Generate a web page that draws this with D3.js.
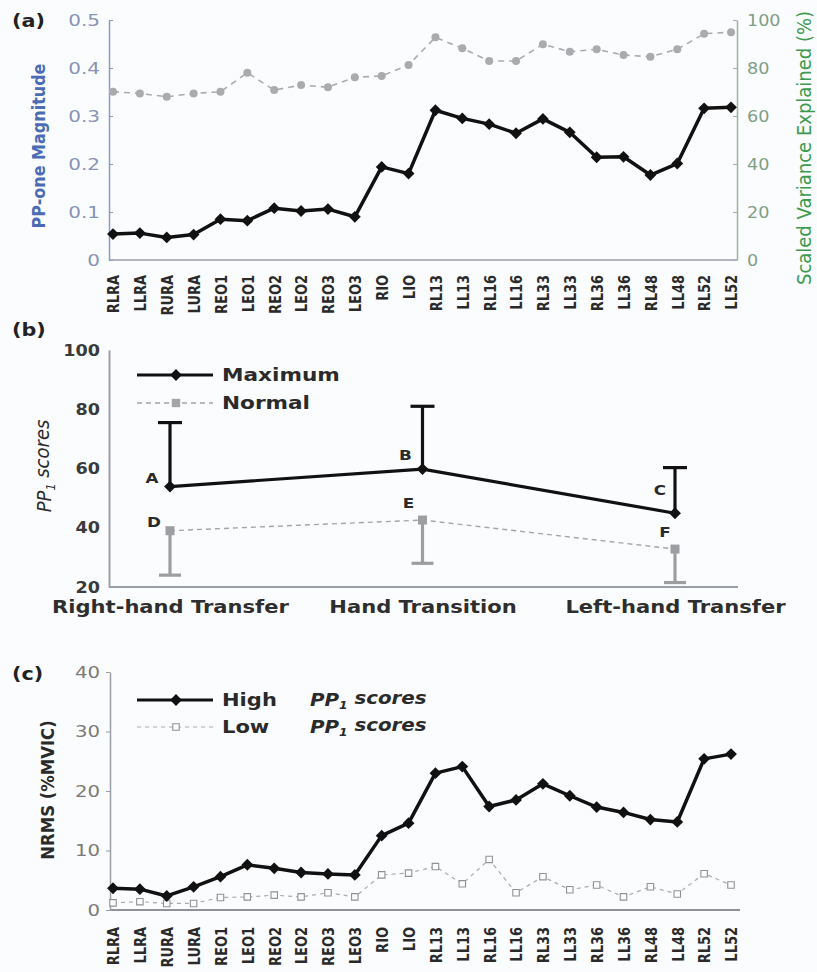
<!DOCTYPE html>
<html><head><meta charset="utf-8">
<script src="https://cdn.jsdelivr.net/npm/d3@7"></script>
<style>
body{margin:0;background:#fbfcfe;}
svg{display:block;font-family:"DejaVu Sans",sans-serif;}
</style>
</head><body>
<svg id="chart" width="817" height="972"></svg>
<script>
// ---------- data ----------
const muscles = ["RLRA","LLRA","RURA","LURA","REO1","LEO1","REO2","LEO2","REO3","LEO3","RIO","LIO","RL13","LL13","RL16","LL16","RL33","LL33","RL36","LL36","RL48","LL48","RL52","LL52"];
const ppMagnitude = [0.054,0.056,0.047,0.053,0.085,0.082,0.108,0.102,0.106,0.090,0.194,0.180,0.312,0.295,0.283,0.264,0.294,0.266,0.214,0.215,0.177,0.201,0.316,0.318];
const varianceExplained = [70.1,69.4,68.0,69.4,70.1,78.0,70.8,72.9,72.0,76.1,76.7,81.3,92.8,88.2,82.9,82.9,89.9,86.8,87.8,85.4,84.7,87.8,94.3,94.9];

const tasks = ["Right-hand Transfer","Hand Transition","Left-hand Transfer"];
const maxScore = [53.9,59.8,44.9];
const maxErrUp = [21.6,21.2,15.4];
const normalScore = [39.0,42.6,32.8];
const normalErrDown = [15.0,14.6,11.3];
const maxPointLabels = ["A","B","C"];
const normalPointLabels = ["D","E","F"];

const nrmsHigh = [3.65,3.5,2.36,3.9,5.6,7.6,7.0,6.3,6.06,5.9,12.5,14.6,23.0,24.1,17.4,18.5,21.2,19.2,17.3,16.4,15.2,14.8,25.4,26.2];
const nrmsLow = [1.2,1.4,1.1,1.1,2.1,2.2,2.5,2.2,2.9,2.2,5.9,6.2,7.3,4.4,8.5,2.9,5.6,3.4,4.2,2.2,3.9,2.7,6.1,4.2];

const ticksALeft = [0,0.1,0.2,0.3,0.4,0.5];
const ticksARight = [0,20,40,60,80,100];
const ticksB = [20,40,60,80,100];
const ticksC = [0,10,20,30,40];

// ---------- helpers ----------
const SX = 1.2;
const svg = d3.select("#chart");

function T(g, str, x, y, o = {}) {
  const sx = o.sx || SX;
  const tr = o.rot
    ? `translate(${x},${y}) rotate(${o.rot}) scale(1,${sx})`
    : `translate(${x},${y}) scale(${sx},1)`;
  const t = g.append("text")
    .attr("transform", tr)
    .attr("font-size", o.size || 16)
    .attr("font-weight", o.weight || "normal")
    .attr("font-style", o.style || "normal")
    .attr("fill", o.fill || "#222")
    .attr("text-anchor", o.anchor || "start");
  if (str !== null) t.text(str);
  return t;
}
function ppScores(t) {
  t.append("tspan").text("PP");
  t.append("tspan").attr("font-size", "0.62em").attr("dy", "0.3em").text("1");
  t.append("tspan").attr("dy", "-0.3em").text(" scores");
  return t;
}
function styleLeftTicks(axisG, o) {
  axisG.selectAll(".tick text")
    .attr("x", -o.pad / o.sx)
    .attr("transform", `scale(${o.sx},1)`)
    .attr("font-size", o.size)
    .attr("font-weight", o.weight || "normal")
    .attr("font-family", "DejaVu Sans")
    .attr("fill", o.fill);
  axisG.selectAll(".tick line").attr("stroke", o.line).attr("stroke-width", 1);
  axisG.select(".domain").attr("stroke", o.line).attr("stroke-width", o.dw || 1.5);
}
const diamond = d3.symbol(d3.symbolSquare, 70);

// ================= panel (a) =================
const gA = svg.append("g");
const xA = d3.scalePoint().domain(muscles).range([113, 731]);
const yA = d3.scaleLinear().domain([0, 0.5]).range([260, 20]);
const yA2 = d3.scaleLinear().domain([0, 100]).range([260, 20]);

gA.append("line").attr("x1", 109).attr("x2", 737).attr("y1", 260).attr("y2", 260)
  .attr("stroke", "#9a9ea6").attr("stroke-width", 1.5);

const axAL = gA.append("g").attr("transform", "translate(109,0)")
  .call(d3.axisLeft(yA).tickValues(ticksALeft).tickSizeInner(-4).tickSizeOuter(0)
    .tickFormat(d => d === 0 ? "0" : d3.format(".1f")(d)));
styleLeftTicks(axAL, {pad: 9, sx: 1.25, size: 16, fill: "#8893b8", line: "#8b9cc4"});

const axAR = gA.append("g").attr("transform", "translate(737,0)")
  .call(d3.axisRight(yA2).tickValues(ticksARight).tickSizeInner(-4).tickSizeOuter(0));
axAR.selectAll(".tick text").attr("x", 10 / 1.1).attr("transform", "scale(1.1,1)")
  .attr("font-size", 16).attr("font-family", "DejaVu Sans").attr("fill", "#7f9f86");
axAR.selectAll(".tick line").attr("stroke", "#9bb59d");
axAR.select(".domain").attr("stroke", "#9bb59d").attr("stroke-width", 1.5);

const axAB = gA.append("g").attr("transform", "translate(0,260)")
  .call(d3.axisBottom(xA).tickSize(0).tickPadding(0));
axAB.select(".domain").remove();
axAB.selectAll(".tick text")
  .attr("transform", "rotate(-90) scale(1,1.25)")
  .attr("x", -15).attr("y", 0).attr("dy", "0.36em")
  .attr("text-anchor", "end").attr("font-size", 13).attr("font-weight", "bold")
  .attr("font-family", "DejaVu Sans").attr("fill", "#2a2a2a");

gA.append("path").datum(varianceExplained)
  .attr("d", d3.line().x((d, i) => xA(muscles[i])).y(d => yA2(d)))
  .attr("fill", "none").attr("stroke", "#a9abaf").attr("stroke-width", 1.6)
  .attr("stroke-dasharray", "6,5");
gA.selectAll(".vdot").data(varianceExplained).join("circle")
  .attr("cx", (d, i) => xA(muscles[i])).attr("cy", d => yA2(d)).attr("r", 4)
  .attr("fill", "#a9abaf");

gA.append("path").datum(ppMagnitude)
  .attr("d", d3.line().x((d, i) => xA(muscles[i])).y(d => yA(d)))
  .attr("fill", "none").attr("stroke", "#111").attr("stroke-width", 3.5)
  .attr("stroke-linejoin", "round");
gA.selectAll(".mdot").data(ppMagnitude).join("path")
  .attr("d", diamond)
  .attr("transform", (d, i) => `translate(${xA(muscles[i])},${yA(d)}) rotate(45)`)
  .attr("fill", "#111");

T(gA, "(a)", 12, 27, {size: 18, weight: "bold", sx: 1.15});
T(gA, "PP-one Magnitude", 45, 146, {rot: -90, anchor: "middle", size: 16, weight: "bold", fill: "#4a6cb3", sx: 1.15});
T(gA, "Scaled Variance Explained (%)", 811, 148, {rot: -90, anchor: "middle", size: 18, fill: "#3c9a4e", sx: 1.05});

// ================= panel (b) =================
const gB = svg.append("g");
const xB = d3.scalePoint().domain(tasks).range([170, 675]);
const yB = d3.scaleLinear().domain([20, 100]).range([587, 350]);

gB.append("line").attr("x1", 109).attr("x2", 738).attr("y1", 587).attr("y2", 587)
  .attr("stroke", "#9a9ea6").attr("stroke-width", 2);
const axBL = gB.append("g").attr("transform", "translate(109,0)")
  .call(d3.axisLeft(yB).tickValues(ticksB).tickSizeInner(0).tickSizeOuter(0));
styleLeftTicks(axBL, {pad: 9, sx: 1.1, size: 16, weight: "bold", fill: "#3a3a3a", line: "#9a9ea6", dw: 2});

const axBB = gB.append("g").attr("transform", "translate(0,587)")
  .call(d3.axisBottom(xB).tickSize(0).tickPadding(0));
axBB.select(".domain").remove();
axBB.selectAll(".tick text")
  .attr("y", 26).attr("dy", 0)
  .attr("transform", "scale(1.17,1)")
  .attr("font-size", 18).attr("font-weight", "bold").attr("font-family", "DejaVu Sans")
  .attr("fill", "#2e2e2e");

gB.append("path").datum(normalScore)
  .attr("d", d3.line().x((d, i) => xB(tasks[i])).y(d => yB(d)))
  .attr("fill", "none").attr("stroke", "#a3a5a9").attr("stroke-width", 1.4)
  .attr("stroke-dasharray", "5,4");
normalScore.forEach((v, i) => {
  const x = xB(tasks[i]), y0 = yB(v), y1 = yB(v - normalErrDown[i]);
  gB.append("line").attr("x1", x).attr("x2", x).attr("y1", y0).attr("y2", y1)
    .attr("stroke", "#9c9ea2").attr("stroke-width", 3.2);
  gB.append("line").attr("x1", x - 11).attr("x2", x + 11).attr("y1", y1).attr("y2", y1)
    .attr("stroke", "#9c9ea2").attr("stroke-width", 3.2);
});
gB.selectAll(".nsq").data(normalScore).join("path")
  .attr("d", d3.symbol(d3.symbolSquare, 81))
  .attr("transform", (d, i) => `translate(${xB(tasks[i])},${yB(d)})`)
  .attr("fill", "#9c9ea2");

maxScore.forEach((v, i) => {
  const x = xB(tasks[i]), y0 = yB(v), y1 = yB(v + maxErrUp[i]);
  gB.append("line").attr("x1", x).attr("x2", x).attr("y1", y0).attr("y2", y1)
    .attr("stroke", "#111").attr("stroke-width", 3.2);
  gB.append("line").attr("x1", x - 12).attr("x2", x + 12).attr("y1", y1).attr("y2", y1)
    .attr("stroke", "#111").attr("stroke-width", 3.2);
});
gB.append("path").datum(maxScore)
  .attr("d", d3.line().x((d, i) => xB(tasks[i])).y(d => yB(d)))
  .attr("fill", "none").attr("stroke", "#111").attr("stroke-width", 3.2);
gB.selectAll(".mx").data(maxScore).join("path")
  .attr("d", diamond)
  .attr("transform", (d, i) => `translate(${xB(tasks[i])},${yB(d)}) rotate(45)`)
  .attr("fill", "#111");

const offMax = [[-18, -4], [-17, -9], [-15, -18]];
const offNorm = [[-16, -4], [-14, -12], [-10, -12]];
maxScore.forEach((v, i) => T(gB, maxPointLabels[i], xB(tasks[i]) + offMax[i][0], yB(v) + offMax[i][1],
  {size: 14, weight: "bold", anchor: "middle", fill: "#2a2a2a"}));
normalScore.forEach((v, i) => T(gB, normalPointLabels[i], xB(tasks[i]) + offNorm[i][0], yB(v) + offNorm[i][1],
  {size: 14, weight: "bold", anchor: "middle", fill: "#2a2a2a"}));

gB.append("line").attr("x1", 137).attr("x2", 213).attr("y1", 375).attr("y2", 375)
  .attr("stroke", "#111").attr("stroke-width", 3.2);
gB.append("path").attr("d", diamond).attr("transform", "translate(176,375) rotate(45)").attr("fill", "#111");
T(gB, "Maximum", 222, 381, {size: 18, weight: "bold", fill: "#2a2a2a", sx: 1.2});
gB.append("line").attr("x1", 137).attr("x2", 213).attr("y1", 403).attr("y2", 403)
  .attr("stroke", "#a3a5a9").attr("stroke-width", 1.4).attr("stroke-dasharray", "5,4");
gB.append("path").attr("d", d3.symbol(d3.symbolSquare, 70)).attr("transform", "translate(176,403)").attr("fill", "#a3a5a9");
T(gB, "Normal", 222, 409, {size: 18, weight: "bold", fill: "#2a2a2a", sx: 1.2});

T(gB, "(b)", 12, 336, {size: 18, weight: "bold", sx: 1.15});
ppScores(T(gB, null, 51, 466, {rot: -90, anchor: "middle", size: 18, style: "italic", fill: "#2a2a2a", sx: 1.1}));

// ================= panel (c) =================
const gC = svg.append("g");
const xC = d3.scalePoint().domain(muscles).range([113, 731]);
const yC = d3.scaleLinear().domain([0, 40]).range([910, 672]);

gC.append("line").attr("x1", 110).attr("x2", 740).attr("y1", 910).attr("y2", 910)
  .attr("stroke", "#8e9298").attr("stroke-width", 1.8);
const axCL = gC.append("g").attr("transform", "translate(110,0)")
  .call(d3.axisLeft(yC).tickValues(ticksC).tickSizeInner(4).tickSizeOuter(0));
styleLeftTicks(axCL, {pad: 10, sx: 1.23, size: 16, fill: "#7a7a7a", line: "#9a9ea6", dw: 1.5});

const axCB = gC.append("g").attr("transform", "translate(0,910)")
  .call(d3.axisBottom(xC).tickSize(0).tickPadding(0));
axCB.select(".domain").remove();
axCB.selectAll(".tick text")
  .attr("transform", "rotate(-90) scale(1,1.25)")
  .attr("x", -17).attr("y", 0).attr("dy", "0.36em")
  .attr("text-anchor", "end").attr("font-size", 13).attr("font-weight", "bold")
  .attr("font-family", "DejaVu Sans").attr("fill", "#2a2a2a");

gC.append("path").datum(nrmsLow)
  .attr("d", d3.line().x((d, i) => xC(muscles[i])).y(d => yC(d)))
  .attr("fill", "none").attr("stroke", "#a9abaf").attr("stroke-width", 1.2)
  .attr("stroke-dasharray", "4,4");
gC.selectAll(".lsq").data(nrmsLow).join("path")
  .attr("d", d3.symbol(d3.symbolSquare, 42))
  .attr("transform", (d, i) => `translate(${xC(muscles[i])},${yC(d)})`)
  .attr("fill", "#fbfcfe").attr("stroke", "#8f9297").attr("stroke-width", 1.1);

gC.append("path").datum(nrmsHigh)
  .attr("d", d3.line().x((d, i) => xC(muscles[i])).y(d => yC(d)))
  .attr("fill", "none").attr("stroke", "#111").attr("stroke-width", 3.5)
  .attr("stroke-linejoin", "round");
gC.selectAll(".hd").data(nrmsHigh).join("path")
  .attr("d", diamond)
  .attr("transform", (d, i) => `translate(${xC(muscles[i])},${yC(d)}) rotate(45)`)
  .attr("fill", "#111");

gC.append("line").attr("x1", 137).attr("x2", 213).attr("y1", 700).attr("y2", 700)
  .attr("stroke", "#111").attr("stroke-width", 3.2);
gC.append("path").attr("d", diamond).attr("transform", "translate(176,700) rotate(45)").attr("fill", "#111");
T(gC, "High", 222, 706, {size: 18, weight: "bold", fill: "#2a2a2a", sx: 1.17});
ppScores(T(gC, null, 310, 706, {size: 18, weight: "bold", style: "italic", fill: "#2a2a2a", sx: 1.1}));
gC.append("line").attr("x1", 137).attr("x2", 213).attr("y1", 727).attr("y2", 727)
  .attr("stroke", "#a9abaf").attr("stroke-width", 1.2).attr("stroke-dasharray", "4,4");
gC.append("path").attr("d", d3.symbol(d3.symbolSquare, 42)).attr("transform", "translate(176,727)")
  .attr("fill", "#fbfcfe").attr("stroke", "#8f9297").attr("stroke-width", 1.1);
T(gC, "Low", 222, 733, {size: 18, weight: "bold", fill: "#2a2a2a", sx: 1.17});
ppScores(T(gC, null, 310, 733, {size: 18, weight: "bold", style: "italic", fill: "#2a2a2a", sx: 1.1}));

T(gC, "(c)", 12, 680, {size: 18, weight: "bold", sx: 1.15});
T(gC, "NRMS (%MVIC)", 54, 790, {rot: -90, anchor: "middle", size: 16.5, weight: "bold", fill: "#2a2a2a", sx: 1.1});
</script>
</body></html>
